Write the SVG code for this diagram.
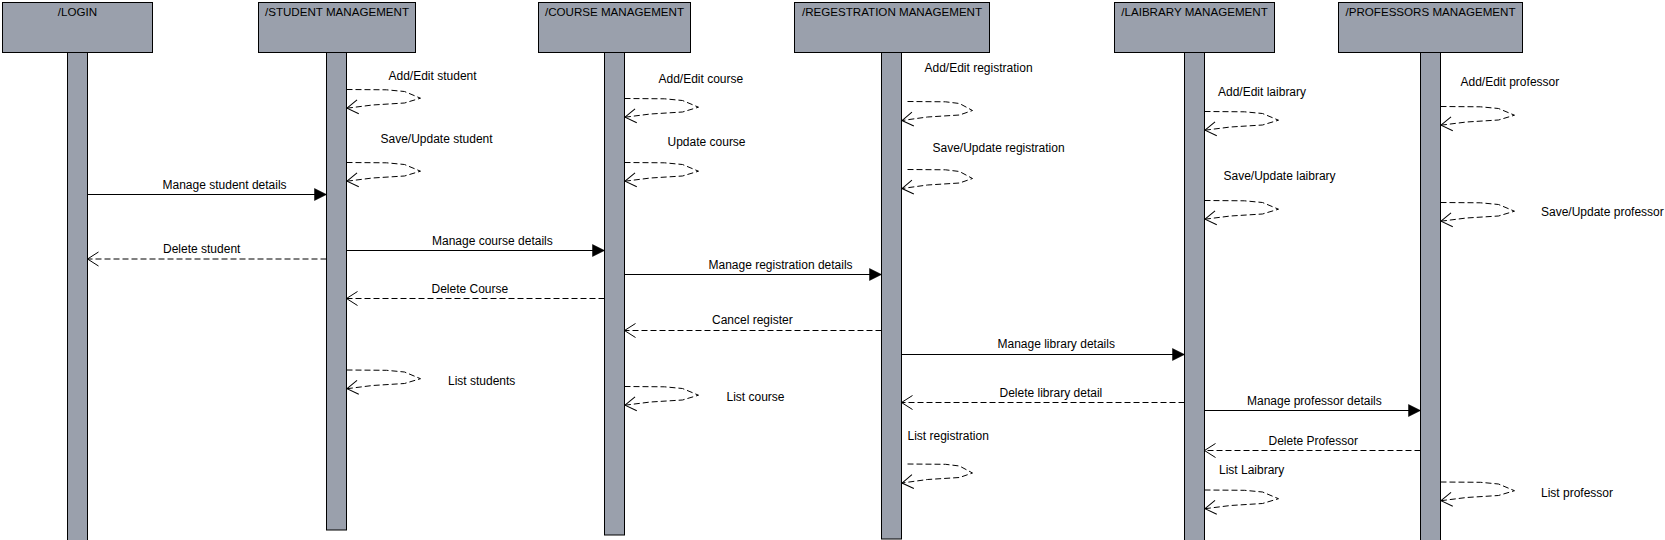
<svg xmlns="http://www.w3.org/2000/svg" width="1665" height="540" viewBox="0 0 1665 540">
<style>
.box{fill:#9aa0ac;stroke:#000;stroke-width:1}
.title{font-family:"Liberation Sans",Arial,sans-serif;font-size:11.6px;fill:#000;text-anchor:middle}
.lbl{font-family:"Liberation Sans",Arial,sans-serif;font-size:12px;fill:#000}
.call{fill:none;stroke:#000;stroke-width:1;marker-end:url(#filled)}
.ret{fill:none;stroke:#000;stroke-width:1;stroke-dasharray:6,3;marker-end:url(#open)}
</style>
<defs>
<marker id="filled" viewBox="-13 -7 14 14" refX="0" refY="0" markerWidth="14" markerHeight="14" markerUnits="userSpaceOnUse" orient="auto" overflow="visible">
<path d="M-12,-6 L0,0 L-12,6 Z" fill="#000" stroke="#000" stroke-width="0.5"/>
</marker>
<marker id="open" viewBox="-13 -8 14 16" refX="0" refY="0" markerWidth="14" markerHeight="16" markerUnits="userSpaceOnUse" orient="auto" overflow="visible">
<path d="M-11,-7 L0,0 L-11,7" fill="none" stroke="#000" stroke-width="1"/>
</marker>
</defs>
<rect width="1665" height="540" fill="#fff"/>

<g id="login">
<rect class="box" x="2.5" y="2.5" width="150" height="50"/>
<rect class="box" x="67.5" y="52.5" width="20" height="500"/>
<text class="title" x="77.5" y="16">/LOGIN</text>
</g>
<g id="student">
<rect class="box" x="258.5" y="2.5" width="157" height="50"/>
<rect class="box" x="326.5" y="52.5" width="20" height="477.5"/>
<text class="title" x="337" y="16">/STUDENT MANAGEMENT</text>
</g>
<g id="course">
<rect class="box" x="538.5" y="2.5" width="152" height="50"/>
<rect class="box" x="604.5" y="52.5" width="20" height="482.5"/>
<text class="title" x="614.5" y="16">/COURSE MANAGEMENT</text>
</g>
<g id="registration">
<rect class="box" x="794.5" y="2.5" width="195" height="50"/>
<rect class="box" x="881.5" y="52.5" width="20" height="486.5"/>
<text class="title" x="892" y="16">/REGESTRATION MANAGEMENT</text>
</g>
<g id="laibrary">
<rect class="box" x="1114.5" y="2.5" width="160" height="50"/>
<rect class="box" x="1184.5" y="52.5" width="20" height="500"/>
<text class="title" x="1194.5" y="16">/LAIBRARY MANAGEMENT</text>
</g>
<g id="professors">
<rect class="box" x="1338.5" y="2.5" width="184" height="50"/>
<rect class="box" x="1420.5" y="52.5" width="20" height="500"/>
<text class="title" x="1430.5" y="16">/PROFESSORS MANAGEMENT</text>
</g>

<g id="connectors">
<g id="m-manage-student">
<line class="call" x1="87.5" y1="194.5" x2="326.5" y2="194.5"/>
<text class="lbl" x="162.5" y="188.5">Manage student details</text>
</g>
<g id="m-delete-student">
<line class="ret" x1="326.5" y1="259" x2="87.5" y2="259"/>
<text class="lbl" x="163" y="252.5">Delete student</text>
</g>
<g id="m-manage-course">
<line class="call" x1="346.5" y1="250.5" x2="604.5" y2="250.5"/>
<text class="lbl" x="432" y="244.5">Manage course details</text>
</g>
<g id="m-manage-registration">
<line class="call" x1="624.5" y1="274.5" x2="881.5" y2="274.5"/>
<text class="lbl" x="708.5" y="268.5">Manage registration details</text>
</g>
<g id="m-delete-course">
<line class="ret" x1="604.5" y1="298.5" x2="346.5" y2="298.5"/>
<text class="lbl" x="431.5" y="292.5">Delete Course</text>
</g>
<g id="m-cancel-register">
<line class="ret" x1="881.5" y1="330.5" x2="624.5" y2="330.5"/>
<text class="lbl" x="712" y="324">Cancel register</text>
</g>
<g id="m-manage-library">
<line class="call" x1="901.5" y1="354.5" x2="1184.5" y2="354.5"/>
<text class="lbl" x="997.5" y="347.5">Manage library details</text>
</g>
<g id="m-delete-library">
<line class="ret" x1="1184.5" y1="402.5" x2="901.5" y2="402.5"/>
<text class="lbl" x="999.5" y="396.5">Delete library detail</text>
</g>
<g id="m-manage-professor">
<line class="call" x1="1204.5" y1="410.5" x2="1420.5" y2="410.5"/>
<text class="lbl" x="1247" y="405">Manage professor details</text>
</g>
<g id="m-delete-professor">
<line class="ret" x1="1420.5" y1="450.5" x2="1204.5" y2="450.5"/>
<text class="lbl" x="1268.5" y="445">Delete Professor</text>
</g>

<g id="s-add-student">
<path class="ret" transform="translate(346.5,89.5)" d="M0,0 L40,0.3 L58,2 L74,8.7 L58,13.5 L26,15.5 L0.5,18.7"/>
<text class="lbl" x="388.5" y="80">Add/Edit student</text>
</g>
<g id="s-save-student">
<path class="ret" transform="translate(346.5,162.5)" d="M0,0 L40,0.3 L58,2 L74,8.7 L58,13.5 L26,15.5 L0.5,18.7"/>
<text class="lbl" x="380.5" y="143">Save/Update student</text>
</g>
<g id="s-list-students">
<path class="ret" transform="translate(346.5,370)" d="M0,0 L40,0.3 L58,2 L74,8.7 L58,13.5 L26,15.5 L0.5,18.7"/>
<text class="lbl" x="448" y="384.5">List students</text>
</g>

<g id="s-add-course">
<path class="ret" transform="translate(624.5,98.5)" d="M0,0 L40,0.3 L58,2 L74,8.7 L58,13.5 L26,15.5 L0.5,18.7"/>
<text class="lbl" x="658.5" y="82.5">Add/Edit course</text>
</g>
<g id="s-update-course">
<path class="ret" transform="translate(624.5,162.5)" d="M0,0 L40,0.3 L58,2 L74,8.7 L58,13.5 L26,15.5 L0.5,18.7"/>
<text class="lbl" x="667.5" y="145.5">Update course</text>
</g>
<g id="s-list-course">
<path class="ret" transform="translate(624.5,386.5)" d="M0,0 L40,0.3 L58,2 L74,8.7 L58,13.5 L26,15.5 L0.5,18.7"/>
<text class="lbl" x="726.5" y="400.5">List course</text>
</g>

<g id="s-add-registration">
<path class="ret" transform="translate(901.5,101.5)" d="M6,0 L44,0.3 L58,2 L71,9 L58,13.5 L26,15.5 L0.5,19"/>
<text class="lbl" x="924.5" y="71.5">Add/Edit registration</text>
</g>
<g id="s-save-registration">
<path class="ret" transform="translate(901.5,169.5)" d="M6,0 L44,0.3 L58,2 L71,9 L58,13.5 L26,15.5 L0.5,19"/>
<text class="lbl" x="932.5" y="151.5">Save/Update registration</text>
</g>
<g id="s-list-registration">
<path class="ret" transform="translate(901.5,464)" d="M6,0 L44,0.3 L58,2 L71,9 L58,13.5 L26,15.5 L0.5,19"/>
<text class="lbl" x="907.5" y="439.5">List registration</text>
</g>

<g id="s-add-laibrary">
<path class="ret" transform="translate(1204.5,111.5)" d="M0,0 L40,0.3 L58,2 L74,8.7 L58,13.5 L26,15.5 L0.5,18.7"/>
<text class="lbl" x="1218" y="95.5">Add/Edit laibrary</text>
</g>
<g id="s-save-laibrary">
<path class="ret" transform="translate(1204.5,200.5)" d="M0,0 L40,0.3 L58,2 L74,8.7 L58,13.5 L26,15.5 L0.5,18.7"/>
<text class="lbl" x="1223.5" y="180">Save/Update laibrary</text>
</g>
<g id="s-list-laibrary">
<path class="ret" transform="translate(1204.5,490)" d="M0,0 L40,0.3 L58,2 L74,8.7 L58,13.5 L26,15.5 L0.5,18.7"/>
<text class="lbl" x="1219" y="473.5">List Laibrary</text>
</g>

<g id="s-add-professor">
<path class="ret" transform="translate(1440.5,106.5)" d="M0,0 L40,0.3 L58,2 L74,8.7 L58,13.5 L26,15.5 L0.5,18.7"/>
<text class="lbl" x="1460.5" y="85.5">Add/Edit professor</text>
</g>
<g id="s-save-professor">
<path class="ret" transform="translate(1440.5,202.5)" d="M0,0 L40,0.3 L58,2 L74,8.7 L58,13.5 L26,15.5 L0.5,18.7"/>
<text class="lbl" x="1541" y="216">Save/Update professor</text>
</g>
<g id="s-list-professor">
<path class="ret" transform="translate(1440.5,482)" d="M0,0 L40,0.3 L58,2 L74,8.7 L58,13.5 L26,15.5 L0.5,18.7"/>
<text class="lbl" x="1541" y="496.5">List professor</text>
</g>
</g>
</svg>
